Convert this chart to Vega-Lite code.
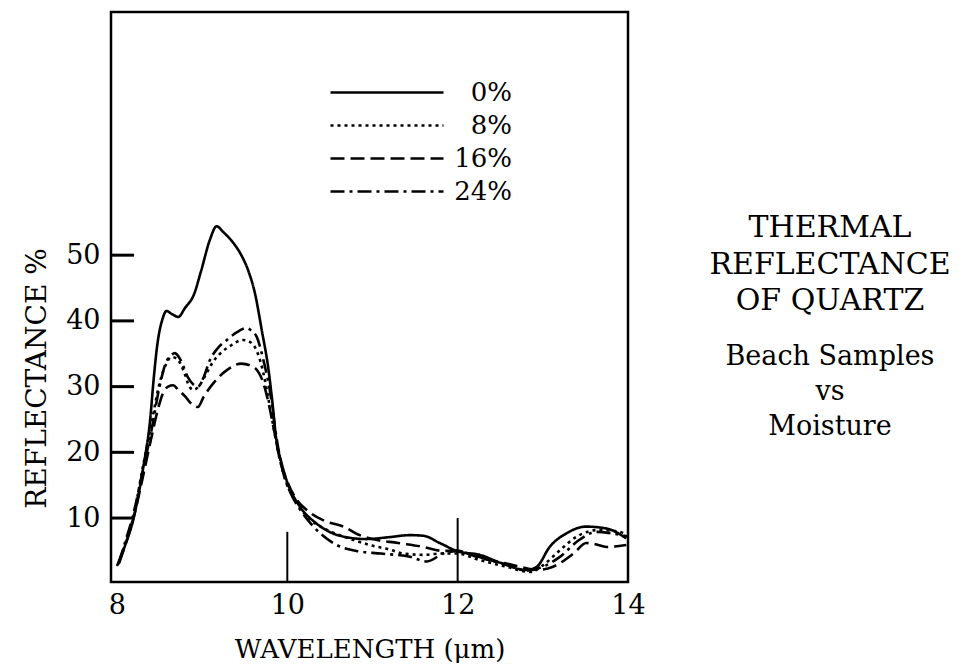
{
  "$schema": "https://vega.github.io/schema/vega-lite/v6.json",
  "autosize": {"type": "none"},
  "padding": {"left": 111, "top": 12, "right": 341, "bottom": 84},
  "width": 517,
  "height": 570,
  "background": "white",
  "title": {
    "text": ["THERMAL", "REFLECTANCE", "OF QUARTZ"],
    "subtitle": ["Beach Samples", "vs", "Moisture"],
    "orient": "top",
    "anchor": "start",
    "frame": "group",
    "align": "center",
    "baseline": "top",
    "dx": 719,
    "dy": 432,
    "font": "DejaVu Serif",
    "fontSize": 30,
    "fontWeight": "normal",
    "lineHeight": 36.5,
    "color": "black",
    "subtitleFont": "DejaVu Serif",
    "subtitleFontSize": 27,
    "subtitleLineHeight": 35,
    "subtitleColor": "black",
    "subtitlePadding": 28
  },
  "config": {
    "view": {"stroke": "black", "strokeWidth": 2.5},
    "font": "DejaVu Serif"
  },
  "datasets": {
    "curves": [
      {"wl": 8.0, "r": 2.7, "m": "0%"}, {"wl": 8.1, "r": 6.0, "m": "0%"}, {"wl": 8.19, "r": 9.7, "m": "0%"}, {"wl": 8.31, "r": 17.8, "m": "0%"}, {"wl": 8.39, "r": 25.0, "m": "0%"}, {"wl": 8.43, "r": 31.0, "m": "0%"}, {"wl": 8.47, "r": 36.0, "m": "0%"}, {"wl": 8.54, "r": 40.5, "m": "0%"}, {"wl": 8.58, "r": 41.5, "m": "0%"}, {"wl": 8.65, "r": 41.0, "m": "0%"}, {"wl": 8.72, "r": 40.6, "m": "0%"}, {"wl": 8.8, "r": 42.0, "m": "0%"}, {"wl": 8.9, "r": 43.9, "m": "0%"}, {"wl": 8.99, "r": 47.7, "m": "0%"}, {"wl": 9.09, "r": 52.3, "m": "0%"}, {"wl": 9.17, "r": 54.4, "m": "0%"}, {"wl": 9.25, "r": 53.5, "m": "0%"}, {"wl": 9.37, "r": 51.8, "m": "0%"}, {"wl": 9.46, "r": 50.0, "m": "0%"}, {"wl": 9.54, "r": 47.7, "m": "0%"}, {"wl": 9.62, "r": 44.2, "m": "0%"}, {"wl": 9.7, "r": 38.6, "m": "0%"}, {"wl": 9.78, "r": 32.5, "m": "0%"}, {"wl": 9.83, "r": 27.0, "m": "0%"}, {"wl": 9.87, "r": 22.0, "m": "0%"}, {"wl": 9.93, "r": 18.5, "m": "0%"}, {"wl": 9.99, "r": 15.8, "m": "0%"}, {"wl": 10.15, "r": 11.7, "m": "0%"}, {"wl": 10.34, "r": 9.2, "m": "0%"}, {"wl": 10.62, "r": 7.3, "m": "0%"}, {"wl": 10.93, "r": 6.8, "m": "0%"}, {"wl": 11.2, "r": 7.1, "m": "0%"}, {"wl": 11.44, "r": 7.4, "m": "0%"}, {"wl": 11.6, "r": 7.3, "m": "0%"}, {"wl": 11.79, "r": 6.2, "m": "0%"}, {"wl": 12.01, "r": 4.9, "m": "0%"}, {"wl": 12.26, "r": 4.4, "m": "0%"}, {"wl": 12.5, "r": 3.2, "m": "0%"}, {"wl": 12.81, "r": 2.1, "m": "0%"}, {"wl": 12.93, "r": 2.6, "m": "0%"}, {"wl": 13.08, "r": 5.6, "m": "0%"}, {"wl": 13.28, "r": 7.7, "m": "0%"}, {"wl": 13.51, "r": 8.7, "m": "0%"}, {"wl": 13.75, "r": 8.4, "m": "0%"}, {"wl": 13.98, "r": 6.9, "m": "0%"},

      {"wl": 8.02, "r": 3.0, "m": "8%"}, {"wl": 8.1, "r": 6.2, "m": "8%"}, {"wl": 8.19, "r": 10.0, "m": "8%"}, {"wl": 8.3, "r": 17.5, "m": "8%"}, {"wl": 8.4, "r": 24.0, "m": "8%"}, {"wl": 8.5, "r": 30.5, "m": "8%"}, {"wl": 8.58, "r": 33.5, "m": "8%"}, {"wl": 8.64, "r": 34.5, "m": "8%"}, {"wl": 8.7, "r": 34.3, "m": "8%"}, {"wl": 8.78, "r": 32.5, "m": "8%"}, {"wl": 8.85, "r": 30.0, "m": "8%"}, {"wl": 8.9, "r": 29.5, "m": "8%"}, {"wl": 8.97, "r": 30.2, "m": "8%"}, {"wl": 9.05, "r": 32.0, "m": "8%"}, {"wl": 9.13, "r": 33.8, "m": "8%"}, {"wl": 9.21, "r": 35.0, "m": "8%"}, {"wl": 9.33, "r": 36.2, "m": "8%"}, {"wl": 9.48, "r": 37.1, "m": "8%"}, {"wl": 9.56, "r": 36.8, "m": "8%"}, {"wl": 9.62, "r": 36.0, "m": "8%"}, {"wl": 9.68, "r": 34.0, "m": "8%"}, {"wl": 9.72, "r": 32.0, "m": "8%"}, {"wl": 9.78, "r": 28.0, "m": "8%"}, {"wl": 9.85, "r": 23.0, "m": "8%"}, {"wl": 9.92, "r": 18.5, "m": "8%"}, {"wl": 10.0, "r": 15.0, "m": "8%"}, {"wl": 10.1, "r": 12.5, "m": "8%"}, {"wl": 10.25, "r": 10.0, "m": "8%"}, {"wl": 10.45, "r": 8.3, "m": "8%"}, {"wl": 10.7, "r": 7.0, "m": "8%"}, {"wl": 10.97, "r": 5.9, "m": "8%"}, {"wl": 11.2, "r": 5.2, "m": "8%"}, {"wl": 11.36, "r": 4.6, "m": "8%"}, {"wl": 11.6, "r": 4.4, "m": "8%"}, {"wl": 11.8, "r": 4.6, "m": "8%"}, {"wl": 11.99, "r": 4.6, "m": "8%"}, {"wl": 12.26, "r": 3.6, "m": "8%"}, {"wl": 12.57, "r": 2.6, "m": "8%"}, {"wl": 12.85, "r": 1.8, "m": "8%"}, {"wl": 13.0, "r": 2.8, "m": "8%"}, {"wl": 13.2, "r": 5.1, "m": "8%"}, {"wl": 13.4, "r": 7.2, "m": "8%"}, {"wl": 13.67, "r": 8.2, "m": "8%"}, {"wl": 13.9, "r": 7.9, "m": "8%"}, {"wl": 14.0, "r": 7.4, "m": "8%"},

      {"wl": 8.03, "r": 3.3, "m": "16%"}, {"wl": 8.1, "r": 6.0, "m": "16%"}, {"wl": 8.19, "r": 9.8, "m": "16%"}, {"wl": 8.3, "r": 16.0, "m": "16%"}, {"wl": 8.4, "r": 22.0, "m": "16%"}, {"wl": 8.48, "r": 26.5, "m": "16%"}, {"wl": 8.54, "r": 29.0, "m": "16%"}, {"wl": 8.6, "r": 30.0, "m": "16%"}, {"wl": 8.66, "r": 30.2, "m": "16%"}, {"wl": 8.72, "r": 29.5, "m": "16%"}, {"wl": 8.8, "r": 28.5, "m": "16%"}, {"wl": 8.88, "r": 27.3, "m": "16%"}, {"wl": 8.95, "r": 26.9, "m": "16%"}, {"wl": 9.02, "r": 28.5, "m": "16%"}, {"wl": 9.13, "r": 30.5, "m": "16%"}, {"wl": 9.29, "r": 32.5, "m": "16%"}, {"wl": 9.46, "r": 33.5, "m": "16%"}, {"wl": 9.6, "r": 33.0, "m": "16%"}, {"wl": 9.67, "r": 32.0, "m": "16%"}, {"wl": 9.72, "r": 30.5, "m": "16%"}, {"wl": 9.78, "r": 27.5, "m": "16%"}, {"wl": 9.85, "r": 23.0, "m": "16%"}, {"wl": 9.92, "r": 18.5, "m": "16%"}, {"wl": 10.0, "r": 15.5, "m": "16%"}, {"wl": 10.1, "r": 13.0, "m": "16%"}, {"wl": 10.25, "r": 11.0, "m": "16%"}, {"wl": 10.45, "r": 9.5, "m": "16%"}, {"wl": 10.66, "r": 8.7, "m": "16%"}, {"wl": 10.85, "r": 7.4, "m": "16%"}, {"wl": 11.0, "r": 6.8, "m": "16%"}, {"wl": 11.3, "r": 6.2, "m": "16%"}, {"wl": 11.6, "r": 5.6, "m": "16%"}, {"wl": 11.83, "r": 5.0, "m": "16%"}, {"wl": 12.0, "r": 5.0, "m": "16%"}, {"wl": 12.2, "r": 4.2, "m": "16%"}, {"wl": 12.38, "r": 3.6, "m": "16%"}, {"wl": 12.6, "r": 3.0, "m": "16%"}, {"wl": 12.73, "r": 2.6, "m": "16%"}, {"wl": 12.93, "r": 2.1, "m": "16%"}, {"wl": 13.12, "r": 2.6, "m": "16%"}, {"wl": 13.36, "r": 4.6, "m": "16%"}, {"wl": 13.51, "r": 6.2, "m": "16%"}, {"wl": 13.62, "r": 6.0, "m": "16%"}, {"wl": 13.75, "r": 5.6, "m": "16%"}, {"wl": 13.98, "r": 5.9, "m": "16%"},

      {"wl": 8.02, "r": 3.2, "m": "24%"}, {"wl": 8.1, "r": 6.5, "m": "24%"}, {"wl": 8.19, "r": 10.5, "m": "24%"}, {"wl": 8.3, "r": 17.0, "m": "24%"}, {"wl": 8.4, "r": 23.0, "m": "24%"}, {"wl": 8.5, "r": 30.0, "m": "24%"}, {"wl": 8.57, "r": 33.5, "m": "24%"}, {"wl": 8.64, "r": 34.8, "m": "24%"}, {"wl": 8.68, "r": 35.1, "m": "24%"}, {"wl": 8.75, "r": 34.0, "m": "24%"}, {"wl": 8.83, "r": 31.5, "m": "24%"}, {"wl": 8.9, "r": 30.3, "m": "24%"}, {"wl": 8.95, "r": 30.0, "m": "24%"}, {"wl": 9.02, "r": 31.5, "m": "24%"}, {"wl": 9.09, "r": 34.0, "m": "24%"}, {"wl": 9.18, "r": 35.8, "m": "24%"}, {"wl": 9.29, "r": 37.1, "m": "24%"}, {"wl": 9.4, "r": 38.2, "m": "24%"}, {"wl": 9.52, "r": 38.9, "m": "24%"}, {"wl": 9.58, "r": 38.5, "m": "24%"}, {"wl": 9.64, "r": 37.6, "m": "24%"}, {"wl": 9.72, "r": 34.0, "m": "24%"}, {"wl": 9.8, "r": 29.0, "m": "24%"}, {"wl": 9.87, "r": 22.5, "m": "24%"}, {"wl": 9.95, "r": 17.0, "m": "24%"}, {"wl": 10.05, "r": 13.5, "m": "24%"}, {"wl": 10.15, "r": 11.3, "m": "24%"}, {"wl": 10.3, "r": 8.8, "m": "24%"}, {"wl": 10.58, "r": 5.9, "m": "24%"}, {"wl": 10.81, "r": 5.0, "m": "24%"}, {"wl": 11.1, "r": 4.6, "m": "24%"}, {"wl": 11.44, "r": 4.1, "m": "24%"}, {"wl": 11.64, "r": 3.4, "m": "24%"}, {"wl": 11.83, "r": 4.6, "m": "24%"}, {"wl": 12.0, "r": 5.0, "m": "24%"}, {"wl": 12.2, "r": 4.3, "m": "24%"}, {"wl": 12.4, "r": 3.5, "m": "24%"}, {"wl": 12.6, "r": 2.8, "m": "24%"}, {"wl": 12.8, "r": 2.0, "m": "24%"}, {"wl": 13.0, "r": 2.6, "m": "24%"}, {"wl": 13.2, "r": 4.1, "m": "24%"}, {"wl": 13.43, "r": 6.7, "m": "24%"}, {"wl": 13.63, "r": 7.9, "m": "24%"}, {"wl": 13.8, "r": 7.7, "m": "24%"}, {"wl": 14.0, "r": 7.2, "m": "24%"}
    ],
    "xmarks": [
      {"wl": 10, "lo": 0.3, "hi": 7.9},
      {"wl": 12, "lo": 0.3, "hi": 10.0}
    ],
    "ymarks": [
      {"r": 10, "t0": 7.93, "t1": 8.2},
      {"r": 20, "t0": 7.93, "t1": 8.2},
      {"r": 30, "t0": 7.93, "t1": 8.2},
      {"r": 40, "t0": 7.93, "t1": 8.2},
      {"r": 50, "t0": 7.93, "t1": 8.2}
    ]
  },
  "layer": [
    {
      "data": {"name": "xmarks"},
      "mark": {"type": "rule", "color": "black", "strokeWidth": 2},
      "encoding": {
        "x": {"field": "wl", "type": "quantitative"},
        "y": {"field": "lo", "type": "quantitative"},
        "y2": {"field": "hi"}
      }
    },
    {
      "data": {"name": "ymarks"},
      "mark": {"type": "rule", "color": "black", "strokeWidth": 3},
      "encoding": {
        "x": {"field": "t0", "type": "quantitative"},
        "x2": {"field": "t1"},
        "y": {"field": "r", "type": "quantitative"},
        "y2": {"field": "r"}
      }
    },
    {
      "data": {"name": "curves"},
      "mark": {"type": "line", "color": "black", "strokeWidth": 2.6, "interpolate": "monotone"},
      "encoding": {
        "x": {
          "field": "wl", "type": "quantitative",
          "scale": {"domain": [7.93, 14], "nice": false, "zero": false},
          "axis": {
            "values": [8, 10, 12, 14],
            "format": "d",
            "ticks": false, "domain": false, "grid": false,
            "labelFont": "DejaVu Serif", "labelFontSize": 27, "labelColor": "black",
            "labelPadding": 10, "labelFlush": false,
            "title": "WAVELENGTH (μm)",
            "titleFont": "DejaVu Serif", "titleFontSize": 26, "titleFontWeight": "normal",
            "titleColor": "black", "titlePadding": 18
          }
        },
        "y": {
          "field": "r", "type": "quantitative",
          "scale": {"domain": [0.27, 87], "nice": false, "zero": false},
          "axis": {
            "values": [10, 20, 30, 40, 50],
            "format": "d",
            "domain": false, "grid": false, "ticks": false,
            "labelFont": "DejaVu Serif", "labelFontSize": 27, "labelColor": "black",
            "labelPadding": 11,
            "title": "REFLECTANCE %",
            "titleFont": "DejaVu Serif", "titleFontSize": 28, "titleFontWeight": "normal",
            "titleColor": "black",
            "titleAngle": 270, "titleAlign": "center", "titleBaseline": "middle",
            "titleX": -74, "titleY": 366
          }
        },
        "strokeDash": {
          "field": "m", "type": "nominal",
          "scale": {
            "domain": ["0%", "8%", "16%", "24%"],
            "range": [[1, 0], [3, 4], [14, 6], [14, 5, 3, 5]]
          },
          "legend": {
            "orient": "none",
            "legendX": 218,
            "legendY": 64,
            "title": null,
            "padding": 0,
            "symbolType": "stroke",
            "symbolSize": 12769,
            "symbolStrokeWidth": 2.6,
            "symbolStrokeColor": "black",
            "clipHeight": 33,
            "rowPadding": 0,
            "labelAlign": "right",
            "labelOffset": 67,
            "labelFont": "DejaVu Serif",
            "labelFontSize": 26,
            "labelColor": "black",
            "labelLimit": 200
          }
        }
      }
    }
  ]
}
